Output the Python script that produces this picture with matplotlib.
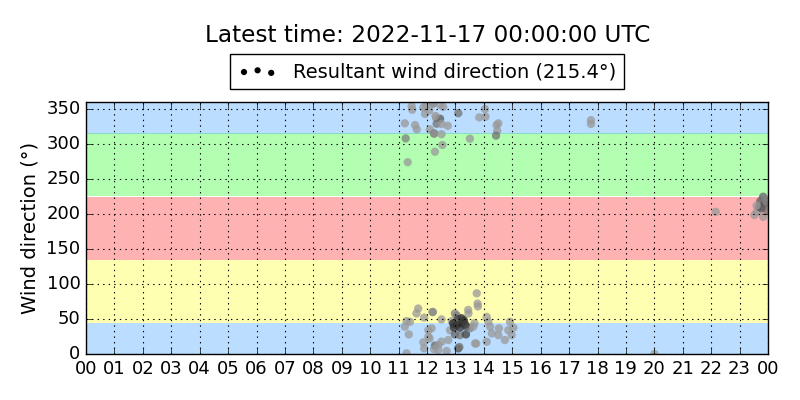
import numpy as np
import matplotlib
matplotlib.use('Agg')
import matplotlib.pyplot as plt

plt.style.use('classic')

# hours since 2022-11-16 00:00 UTC and wind direction in degrees
hours = [11.46, 11.48, 11.87, 11.96, 12.22, 12.08, 11.93, 12.46, 12.57, 11.22,
         11.58, 11.64, 12.32, 12.46, 12.34, 12.51, 12.73, 12.10, 12.25, 12.25,
         12.51, 13.10, 11.25, 12.54, 12.28, 11.32, 13.51, 13.84, 14.04, 14.06,
         14.45, 14.51, 14.47, 14.43, 12.22, 12.30,
         13.75, 13.78, 13.79, 11.69, 11.63, 11.90, 12.20, 12.20, 12.51, 11.28,
         11.40, 11.22, 11.36, 11.87, 11.90, 11.28, 12.05, 12.16, 12.05, 12.09,
         12.28, 12.25, 12.40, 12.40, 12.69, 12.75, 12.51, 12.81, 12.87, 12.98,
         13.05, 12.92, 13.04, 13.22, 13.28, 13.39, 13.16, 12.98, 13.16, 13.37,
         13.51, 13.63, 13.67, 13.45, 13.46, 13.10, 13.14, 13.69, 13.73, 14.10,
         14.16, 14.22, 14.28, 14.10, 14.53, 14.51, 14.74, 14.86, 14.92, 15.04,
         14.98, 13.22, 13.30, 13.35, 12.95, 13.10,
         17.77, 17.77, 22.16, 20.00,
         23.52, 23.60, 23.72, 23.69, 23.77, 23.83, 23.89, 23.83, 23.95, 23.77,
         23.89, 23.95, 23.60]
directions = [354, 349, 352, 355, 358, 348, 343, 356, 353, 329.5,
              327, 321, 337, 336, 329, 328.6, 326, 321, 315, 315,
              314, 344, 308, 298.6, 289, 274, 307.6, 338, 350, 339,
              327, 329.5, 319, 312, 358, 340,
              86.7, 72, 68, 65, 58, 52, 60, 60, 49.5, 47,
              46, 39, 28, 16.7, 8, 1, 34, 36.7, 24.8, 22,
              12, 7, 13, 5.7, 4.3, 20, 17.6, 34, 47, 58,
              55, 43.8, 41.4, 51, 46, 39, 37.6, 28, 27, 28,
              36.7, 39, 44, 63, 58, 8, 10, 15, 15, 53,
              46, 39, 29.5, 17.6, 36.7, 27, 20, 34, 46, 37.6,
              27, 44, 48, 42, 38, 50,
              334, 328.6, 203, 0,
              198.6, 203, 217.6, 210, 220, 224.7, 215, 196, 205.7, 208,
              222, 218, 212]
# grey level of each point (0 = black, 1 = white)
shade = [0.6, 0.6, 0.6, 0.6, 0.45, 0.6, 0.6, 0.6, 0.6, 0.6,
         0.6, 0.6, 0.6, 0.35, 0.45, 0.6, 0.6, 0.6, 0.3, 0.6,
         0.6, 0.45, 0.5, 0.6, 0.6, 0.6, 0.6, 0.6, 0.6, 0.6,
         0.6, 0.6, 0.6, 0.45, 0.6, 0.6,
         0.6, 0.6, 0.6, 0.6, 0.6, 0.6, 0.35, 0.6, 0.6, 0.6,
         0.6, 0.6, 0.6, 0.6, 0.6, 0.6, 0.6, 0.6, 0.6, 0.6,
         0.4, 0.6, 0.6, 0.6, 0.6, 0.6, 0.6, 0.6, 0.6, 0.5,
         0.5, 0.15, 0.2, 0.15, 0.2, 0.3, 0.2, 0.4, 0.45, 0.25,
         0.5, 0.6, 0.6, 0.6, 0.6, 0.3, 0.45, 0.6, 0.6, 0.6,
         0.6, 0.6, 0.6, 0.6, 0.6, 0.6, 0.6, 0.6, 0.6, 0.6,
         0.6, 0.15, 0.2, 0.25, 0.2, 0.25,
         0.6, 0.6, 0.6, 0.6,
         0.6, 0.6, 0.4, 0.35, 0.45, 0.4, 0.35, 0.6, 0.45, 0.35,
         0.5, 0.5, 0.6]

resultant = 215.4
sectors = [(0, 45), (45, 135), (135, 225), (225, 315), (315, 360)]
sector_colors = ['dodgerblue', 'yellow', 'red', 'lime', 'dodgerblue']

hour_labels = ['%02d' % (h % 24) for h in range(25)]

fig = plt.figure(figsize=(8, 4), dpi=100, facecolor='white')
ax = fig.add_axes([0.1075, 0.115, 0.8525, 0.63])

for (lo, hi), col in zip(sectors, sector_colors):
    ax.axhspan(lo, hi, color=col, alpha=0.3, lw=0, zorder=0)

ax.scatter(hours, directions, s=36, c=[str(g) for g in shade], alpha=0.75,
           edgecolors='none', zorder=2)

ax.set_xlim(0, 24)
ax.set_ylim(0, 360)
ax.set_xticks(range(25))
ax.set_xticklabels(hour_labels)
ax.set_yticks(range(0, 351, 50))
ax.tick_params(labelsize=13)
ax.grid(True, color='k', linestyle=':', linewidth=0.8)
ax.set_axisbelow(False)
ax.set_ylabel('Wind direction (°)', fontsize=14)

# legend handle: empty black scatter
proxy = ax.scatter([], [], s=20, c='k', edgecolors='none')
ax.legend([proxy], ['Resultant wind direction (%.1f°)' % resultant],
          loc='lower center', bbox_to_anchor=(0.5, 1.052), fontsize=14,
          scatterpoints=3, borderaxespad=0, frameon=True)

fig.text(0.535, 0.912, 'Latest time: 2022-11-17 00:00:00 UTC', ha='center', va='center', fontsize=16.7)

fig.savefig('out.png', dpi=100, facecolor='white')
